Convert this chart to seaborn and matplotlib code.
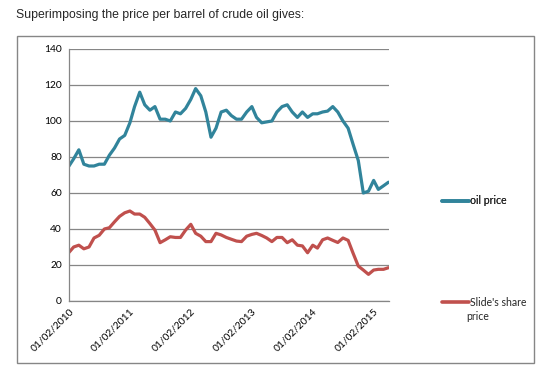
import pandas as pd
import matplotlib.pyplot as plt
import matplotlib.dates as mdates
from matplotlib.patches import Rectangle
from matplotlib.lines import Line2D
import seaborn as sns

# ===== DATA =====
start_month = '2010-02-01'
oil_price = [75, 79, 84, 76, 75, 75, 76, 76, 81, 85, 90, 92,
             99, 108, 116, 109, 106, 108, 101, 101, 100, 105, 104, 107,
             112, 118, 114, 105, 91, 96, 105, 106, 103, 101, 101, 105,
             108, 102, 99, 99.5, 100, 105, 108, 109, 105, 102, 105, 102,
             104, 104, 105, 105.5, 108, 105, 100, 96, 87, 78, 60, 61,
             67, 62, 64, 66]
share_price = [27, 30, 31, 29, 30, 35, 36.5, 40, 40.7, 44, 47, 49,
               50, 48.3, 48.3, 46.5, 43, 39.4, 32.4, 34, 35.7, 35.3, 35.3, 39.4,
               42.6, 37.6, 36, 33, 33, 37.6, 36.7, 35.3, 34.3, 33.3, 33, 36,
               37, 37.6, 36.4, 35, 33, 35.3, 35.3, 32.4, 34, 31, 30.6, 26.8,
               31, 29.4, 34, 35, 33.7, 32.5, 35, 33.7, 26.5, 19.4, 17.2, 14.8,
               17.2, 17.6, 17.6, 18.5]
series_names = ['oil price', "Slide's share price"]
y_ticks = [0, 20, 40, 60, 80, 100, 120, 140]
x_tick_years = [2010, 2011, 2012, 2013, 2014, 2015]

# ===== Colors SCHEME =====
colors = ['#31849B', '#C0504D']  # teal: oil, red: share

dates = pd.date_range(start_month, periods=len(oil_price), freq='MS')
df = pd.DataFrame({
    'date': list(dates) * 2,
    'value': oil_price + share_price,
    'series': [series_names[0]] * len(dates) + [series_names[1]] * len(dates),
})

# ===== PLOT =====
sns.set_style('white')
plt.rcParams['font.family'] = ['Lato', 'DejaVu Sans']

fig = plt.figure(figsize=(5.43, 3.76), dpi=100)
ax = fig.add_axes([69 / 543, 1 - 301 / 376, 320 / 543, 252 / 376])

sns.lineplot(data=df, x='date', y='value', hue='series', palette=colors,
             linewidth=2.3, ax=ax, legend=False)

# ===== AXES =====
ax.set_xlim(dates[0], dates[-1] + pd.Timedelta(days=3))
ax.set_ylim(0, 140)
ax.set_yticks(y_ticks)
ax.yaxis.grid(True, color='#868686', linewidth=0.9)
ax.xaxis.grid(False)
ax.set_xticks([pd.Timestamp(f'{y}-02-01') for y in x_tick_years])
ax.xaxis.set_major_formatter(mdates.DateFormatter('%d/%m/%Y'))
ax.set_xlabel('')
ax.set_ylabel('')
for s in ['top', 'right']:
    ax.spines[s].set_visible(False)
for s in ['left', 'bottom']:
    ax.spines[s].set_color('#868686')
    ax.spines[s].set_linewidth(0.9)
ax.tick_params(axis='both', length=3, width=0.9, color='#868686',
               labelsize=7.4, labelcolor='black', pad=2, direction='out')
ax.tick_params(axis='x', pad=1)
plt.setp(ax.get_xticklabels(), rotation=45, ha='right', rotation_mode='anchor')

# ===== LEGEND =====
leg_x = 432 / 543
h1 = [Line2D([0], [0], color=colors[0], linewidth=2.6)]
h2 = [Line2D([0], [0], color=colors[1], linewidth=2.6)]
leg1 = fig.legend(h1, [series_names[0]], loc='center left',
                  bbox_to_anchor=(leg_x, 1 - 201 / 376), frameon=False,
                  fontsize=7.6, handlelength=2.6, handletextpad=0.1)
leg2 = fig.legend(h2, ["Slide's share"], loc='center left',
                  bbox_to_anchor=(leg_x, 1 - 302 / 376), frameon=False,
                  fontsize=7.6, handlelength=2.6, handletextpad=0.1)
fig.add_artist(leg1)
fig.text(466 / 543, 1 - 316 / 376, 'price', fontsize=7.6, va='center', ha='left')

# ===== FRAME & TITLE =====
fig.patches.append(Rectangle((17 / 543, 1 - 363 / 376), 517 / 543, 327 / 376,
                             transform=fig.transFigure, fill=False,
                             edgecolor='#868686', linewidth=1))
fig.text(16 / 543, 1 - 15 / 376, 'Superimposing the price per barrel of crude oil gives:',
         fontsize=8.8, family=['Liberation Sans', 'DejaVu Sans'], va='center', ha='left')

fig.savefig('out.png', dpi=100)
